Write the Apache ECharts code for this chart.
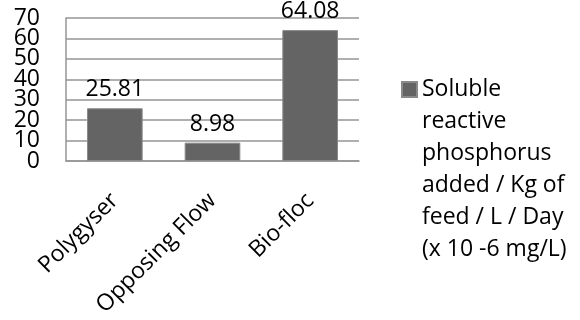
<!DOCTYPE html>
<html>
<head>
<meta charset="utf-8">
<script src="https://cdn.jsdelivr.net/npm/echarts@6/dist/echarts.min.js"></script>
<style>html,body{margin:0;padding:0;background:#fff}#c{width:580px;height:320px}</style>
</head>
<body>
<div id="c"></div>
<script>
var categories = ['Polygyser', 'Opposing Flow', 'Bio-floc'];
var values = [25.81, 8.98, 64.08];
var seriesName = 'Soluble\nreactive\nphosphorus\nadded / Kg of\nfeed / L / Day\n(x 10 -6 mg/L)';
var yMin = 0, yMax = 70, yStep = 10;
var yTicksEven = [0, 20, 40, 60];
var yTicksOdd = [10, 30, 50, 70];

var FONT = '"Open Sans", "Noto Sans", sans-serif';
var yLabel = {margin: 26, fontFamily: FONT, fontSize: 23, color: '#000'};
var chart = echarts.init(document.getElementById('c'), null, {renderer: 'canvas'});
chart.setOption({
  animation: false,
  backgroundColor: '#ffffff',
  grid: {left: 66, right: 221, top: 18, bottom: 159, containLabel: false},
  legend: {
    left: 396, top: -91.5, orient: 'vertical',
    itemWidth: 15, itemHeight: 15,
    icon: 'rect',
    formatter: function (name) { return '\n\n\n\n\n' + name; },
    textStyle: {fontFamily: FONT, fontSize: 23, color: '#000', lineHeight: 32},
    data: [seriesName]
  },
  xAxis: {
    type: 'category', data: categories,
    axisLine: {show: true, lineStyle: {color: '#959595', width: 1.5}},
    axisTick: {show: false},
    axisLabel: {rotate: 45, margin: 36, fontFamily: FONT, fontSize: 23, color: '#000', interval: 0}
  },
  yAxis: [{
    type: 'value', min: yMin, max: yMax, interval: yStep, position: 'left',
    axisLine: {show: true, lineStyle: {color: '#959595', width: 1.5}},
    axisTick: {show: false},
    splitLine: {show: true, lineStyle: {color: '#959595', width: 1.5}},
    axisLabel: Object.assign({customValues: yTicksEven}, yLabel)
  }, {
    type: 'value', min: yMin, max: yMax, interval: yStep, position: 'left', offset: 0,
    axisLine: {show: false},
    axisTick: {show: false},
    splitLine: {show: false},
    axisLabel: Object.assign({customValues: yTicksOdd}, yLabel)
  }],
  series: [{
    name: seriesName, type: 'bar', data: values, yAxisIndex: 0,
    barCategoryGap: '43%',
    itemStyle: {color: '#646464', borderColor: '#8a8a8a', borderWidth: 1},
    label: {show: true, position: 'top', distance: 7, fontFamily: FONT, fontSize: 23, color: '#000'}
  }]
});
</script>
</body>
</html>
